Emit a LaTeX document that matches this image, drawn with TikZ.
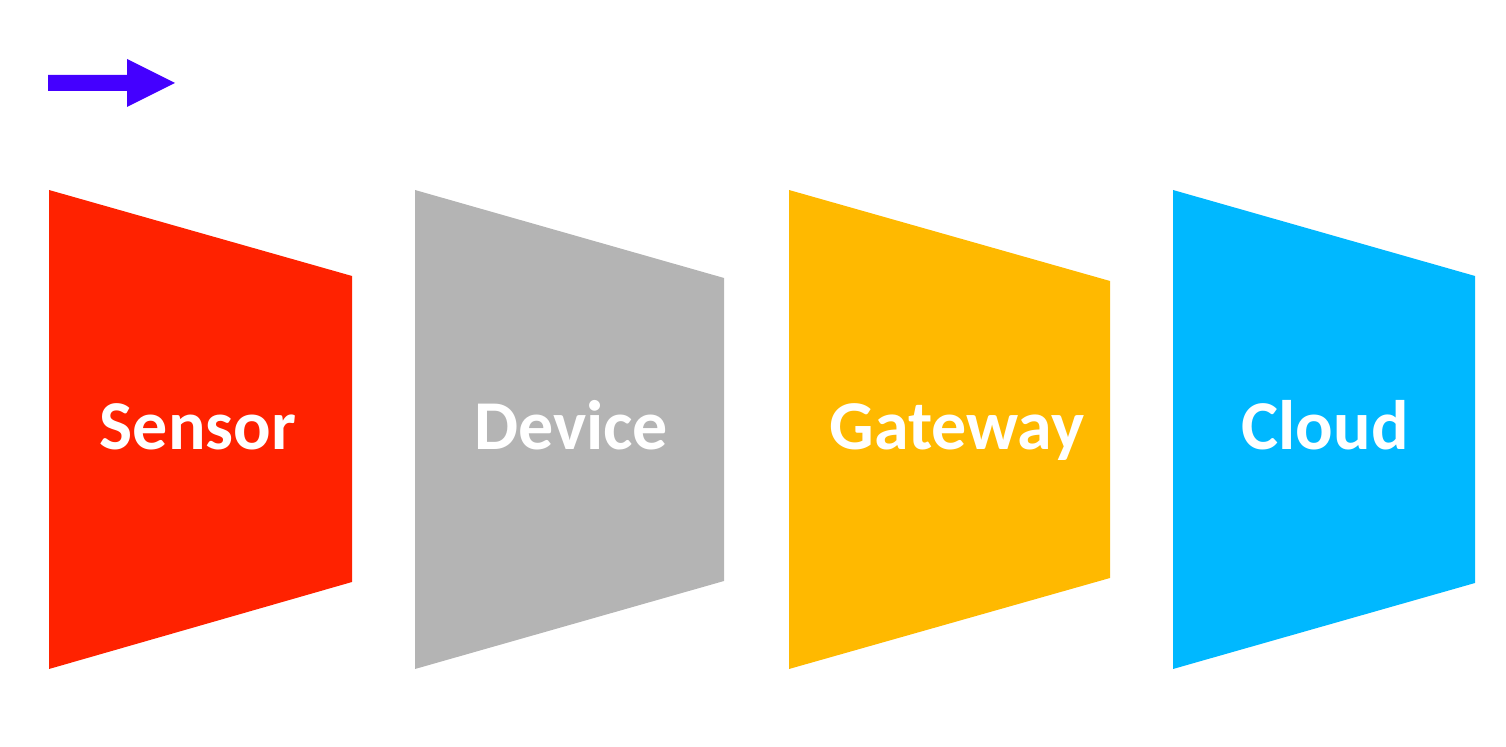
\documentclass[tikz,border=0pt]{standalone}
\usepackage{fontspec}
\setmainfont{Carlito}
\definecolor{cred}{HTML}{FF2200}
\definecolor{cgray}{HTML}{B4B4B4}
\definecolor{corange}{HTML}{FFB900}
\definecolor{cblue}{HTML}{00B8FF}
\definecolor{carrow}{HTML}{4400FF}
\tikzset{
  lbl/.style={text=white, font=\fontsize{35}{40}\selectfont\bfseries, inner sep=0pt, anchor=base},
}
\begin{document}
\begin{tikzpicture}[x=0.5pt,y=-0.5pt]
\useasboundingbox (0,0) rectangle (1506,747);
% arrow
\fill[carrow] (48,75) -- (127,75) -- (127,59) -- (175,83) -- (127,107) -- (127,91) -- (48,91) -- cycle;
% shapes
\fill[cred] (49,190) -- (352,276) -- (352,582) -- (49,669) -- cycle;
\fill[cgray] (415,190) -- (724,278) -- (724,581) -- (415,669) -- cycle;
\fill[corange] (789,190) -- (1110,281) -- (1110,578) -- (789,669) -- cycle;
\fill[cblue] (1173,190) -- (1475,276) -- (1475,583) -- (1173,669) -- cycle;
% labels
\node[lbl] (sensor) at (198,450) {Sensor};
\node[lbl] (device) at (571,450) {Device};
\node[lbl] (gateway) at (957,450) {Gateway};
\node[lbl] (cloud) at (1325,450) {Cloud};
\end{tikzpicture}
\end{document}
